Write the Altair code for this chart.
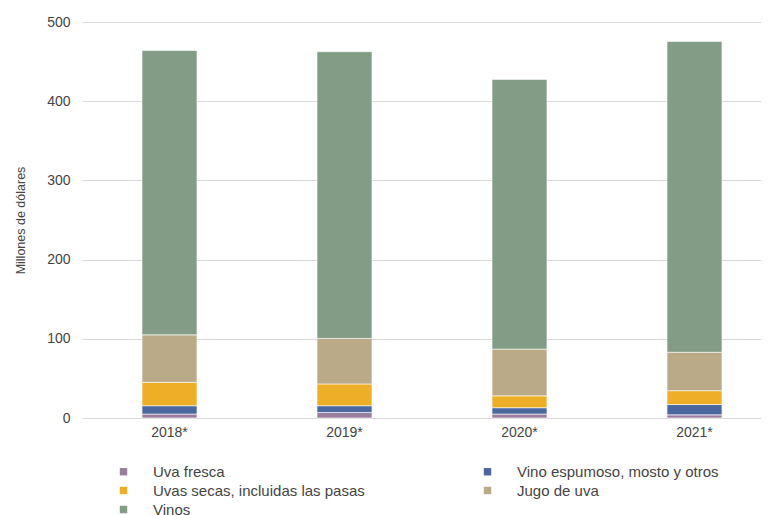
import altair as alt
import pandas as pd

years = ["2018*", "2019*", "2020*", "2021*"]
series = ["Uva fresca", "Vino espumoso, mosto y otros", "Uvas secas, incluidas las pasas", "Jugo de uva", "Vinos"]
uva_fresca = [5, 7, 5, 4]
vino_espumoso = [10.5, 8.5, 8, 13]
uvas_secas = [29.5, 27.5, 15, 17.5]
jugo = [60, 57.5, 59, 48.5]
vinos = [359, 362, 340.5, 392.5]
colors = ["#9A7E9E", "#4A67A0", "#EEAE28", "#BBAA88", "#839C85"]

# legend order (column-major fill of 2 columns)
legend_order = [0, 2, 4, 1, 3]
leg_domain = [series[i] for i in legend_order]
leg_range = [colors[i] for i in legend_order]

vals = [uva_fresca, vino_espumoso, uvas_secas, jugo, vinos]
rows = []
for si, s in enumerate(series):
    for yi, y in enumerate(years):
        rows.append({"year": y, "serie": s, "value": vals[si][yi], "ord": si})
df = pd.DataFrame(rows)

font = "Liberation Sans"

chart = alt.Chart(df).mark_bar(stroke="white", strokeWidth=0.6).encode(
    x=alt.X("year:N", sort=years, title=None,
            scale=alt.Scale(range=[0, 700], paddingInner=0.686, paddingOuter=0.343),
            axis=alt.Axis(labelAngle=0, labelFontSize=14, labelColor="#444444", labelFont=font,
                          domain=False, ticks=False, labelPadding=7)),
    y=alt.Y("value:Q", stack="zero", title="Millones de dólares",
            scale=alt.Scale(domain=[0, 500], nice=False),
            axis=alt.Axis(values=[0, 100, 200, 300, 400, 500], labelFontSize=14, labelColor="#444444",
                          labelFont=font, domain=False, ticks=False, labelPadding=12,
                          titleFont=font, titleFontSize=12.5, titleFontWeight="normal",
                          titleColor="#444444", titlePadding=19, gridColor="#d9d9d9")),
    color=alt.Color("serie:N",
                    scale=alt.Scale(domain=leg_domain, range=leg_range),
                    legend=alt.Legend(title=None, orient="none", legendX=34, legendY=46 + 396,
                                      columns=2, columnPadding=115, rowPadding=3,
                                      symbolType="square", symbolSize=55, symbolStrokeWidth=0,
                                      labelOffset=22, labelFontSize=15, labelFont=font,
                                      labelColor="#444444", labelLimit=400)),
    order=alt.Order("ord:Q"),
).properties(
    width=676, height=396,
    autosize=alt.AutoSizeParams(type="none"),
    padding={"left": 74, "top": 14, "right": 3, "bottom": 100},
).configure_view(stroke=None)

chart.save("out.html", embed_options={"renderer": "svg", "actions": False})
